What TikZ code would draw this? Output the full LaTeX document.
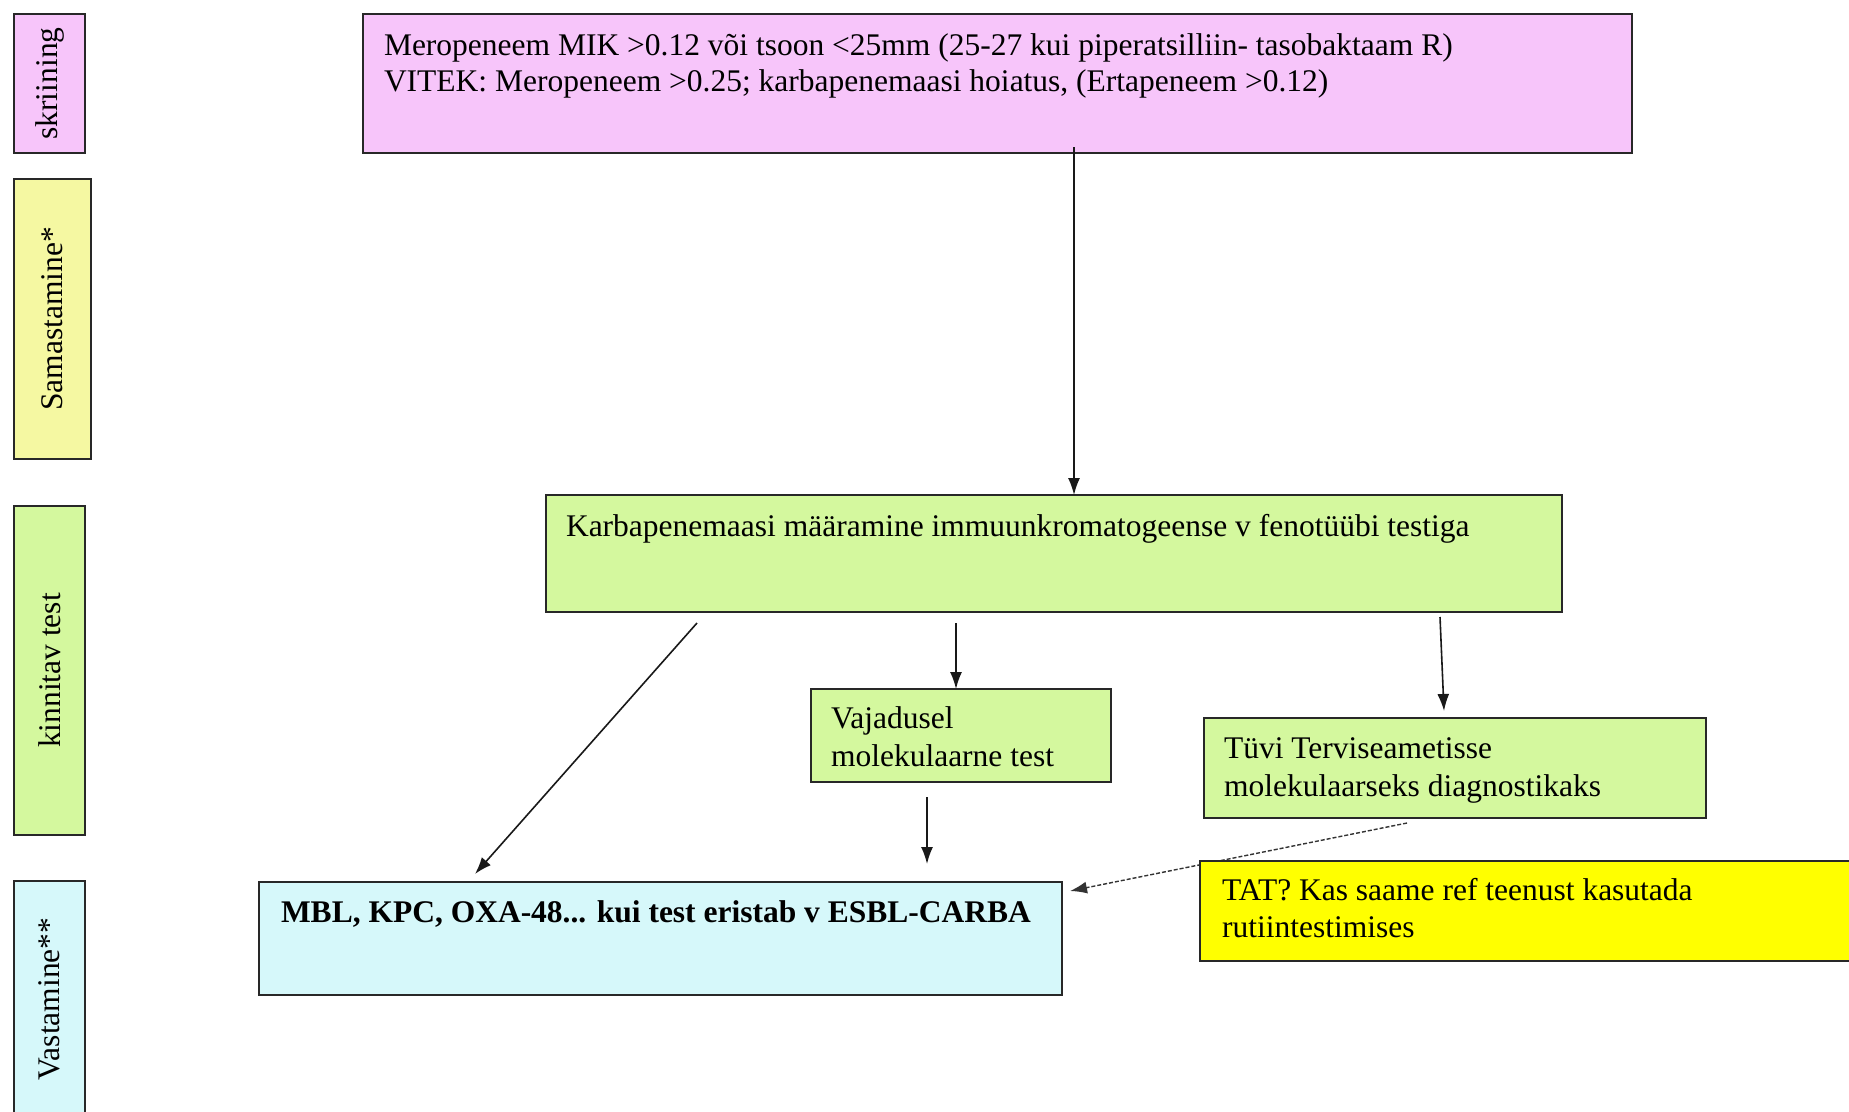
\documentclass[tikz,border=0pt]{standalone}
\usepackage{fontspec}
\setmainfont{Liberation Serif}
\usetikzlibrary{arrows.meta}
\definecolor{pinkc}{RGB}{247,197,250}
\definecolor{yelc}{RGB}{245,248,162}
\definecolor{grnc}{RGB}{212,248,158}
\definecolor{cyac}{RGB}{214,248,250}
\definecolor{yelb}{RGB}{255,255,0}
\definecolor{edgec}{RGB}{40,40,40}
\tikzset{
  box/.style={draw=edgec, line width=1.7pt, rectangle, inner sep=0pt, outer sep=0pt,
    font=\fontsize{31.5}{37}\selectfont},
  txt/.style={inner sep=0pt, outer sep=0pt, font=\fontsize{31.5}{37}\selectfont},
  arr/.style={draw=black!90, line width=1.6pt, -{Latex[length=17pt,width=12pt]}},
  darr/.style={draw=black!80, line width=1.4pt, dash pattern=on 4pt off 2pt, -{Latex[length=17pt,width=12pt]}}
}
\begin{document}
\begin{tikzpicture}[x=1pt,y=1pt]
\useasboundingbox (0,0) rectangle (1849,-1111);
\fill[white] (0,0) rectangle (1849,-1111);

% side labels
\node[box, fill=pinkc, rotate=90, minimum width=139pt, minimum height=71pt] (lab1) at (49.5,-83.5) {skriining};
\node[box, fill=yelc, rotate=90, minimum width=280pt, minimum height=77pt] (lab2) at (52.5,-319) {Samastamine*};
\node[box, fill=grnc, rotate=90, minimum width=329pt, minimum height=71pt] (lab3) at (49.5,-670.5) {kinnitav test};
\node[box, fill=cyac, rotate=90, minimum width=236pt, minimum height=71pt] (lab4) at (49.5,-999) {Vastamine**};

% main boxes
\node[box, fill=pinkc, anchor=north west, minimum width=1269pt, minimum height=139pt] (top) at (363,-14) {};
\node[box, fill=grnc, anchor=north west, minimum width=1016pt, minimum height=117pt] (karb) at (546,-495) {};
\node[box, fill=grnc, anchor=north west, minimum width=300pt, minimum height=93pt] (vaj) at (811,-689) {};
\node[box, fill=grnc, anchor=north west, minimum width=502pt, minimum height=100pt] (tuvi) at (1204,-718) {};
\node[box, fill=cyac, anchor=north west, minimum width=803pt, minimum height=113pt] (mbl) at (259,-882) {};

% dashed connector (under the yellow box)
\draw[darr] ([shift={(203,-5)}]tuvi.south west) -- ([shift={(8,-9)}]mbl.north east);

\node[box, fill=yelb, anchor=north west, minimum width=660pt, minimum height=100pt] (tat) at (1200,-861) {};

% texts
\node[txt, anchor=base west] (topa) at ([shift={(21,-41)}]top.north west) {Meropeneem MIK >0.12 või tsoon <25mm (25-27 kui piperatsilliin- tasobaktaam R)};
\node[txt, anchor=base west] (topb) at ([shift={(0,-36)}]topa.base west) {VITEK: Meropeneem >0.25; karbapenemaasi hoiatus, (Ertapeneem >0.12)};
\node[txt, anchor=base west] (karba) at ([shift={(20,-41)}]karb.north west) {Karbapenemaasi määramine immuunkromatogeense v fenotüübi testiga};
\node[txt, anchor=base west] (vaja) at ([shift={(20,-39)}]vaj.north west) {Vajadusel};
\node[txt, anchor=base west] (vajb) at ([shift={(0,-38)}]vaja.base west) {molekulaarne test};
\node[txt, anchor=base west] (tuvia) at ([shift={(20,-40)}]tuvi.north west) {Tüvi Terviseametisse};
\node[txt, anchor=base west] (tuvib) at ([shift={(0,-38)}]tuvia.base west) {molekulaarseks diagnostikaks};
\node[txt, anchor=base west, font=\fontsize{31.5}{37}\selectfont\bfseries] (mbla) at ([shift={(22,-40)}]mbl.north west) {MBL, KPC, OXA-48... kui test eristab v ESBL-CARBA};
\node[txt, anchor=base west] (tata) at ([shift={(22,-39)}]tat.north west) {TAT? Kas saame ref teenust kasutada};
\node[txt, anchor=base west] (tatb) at ([shift={(0,-37)}]tata.base west) {rutiintestimises};

% connectors
\draw[arr] ([shift={(711,6)}]top.south west) -- ([shift={(528,0)}]karb.north west);
\draw[arr] ([shift={(151,-11)}]karb.south west) -- ([shift={(216,8)}]mbl.north west);
\draw[arr] ([shift={(410,-11)}]karb.south west) -- ([shift={(145,0)}]vaj.north west);
\draw[arr] ([shift={(894,-5)}]karb.south west) -- ([shift={(240,7)}]tuvi.north west);
\draw[arr] ([shift={(116,-15)}]vaj.south west) -- ([shift={(668,18)}]mbl.north west);
\end{tikzpicture}
\end{document}
